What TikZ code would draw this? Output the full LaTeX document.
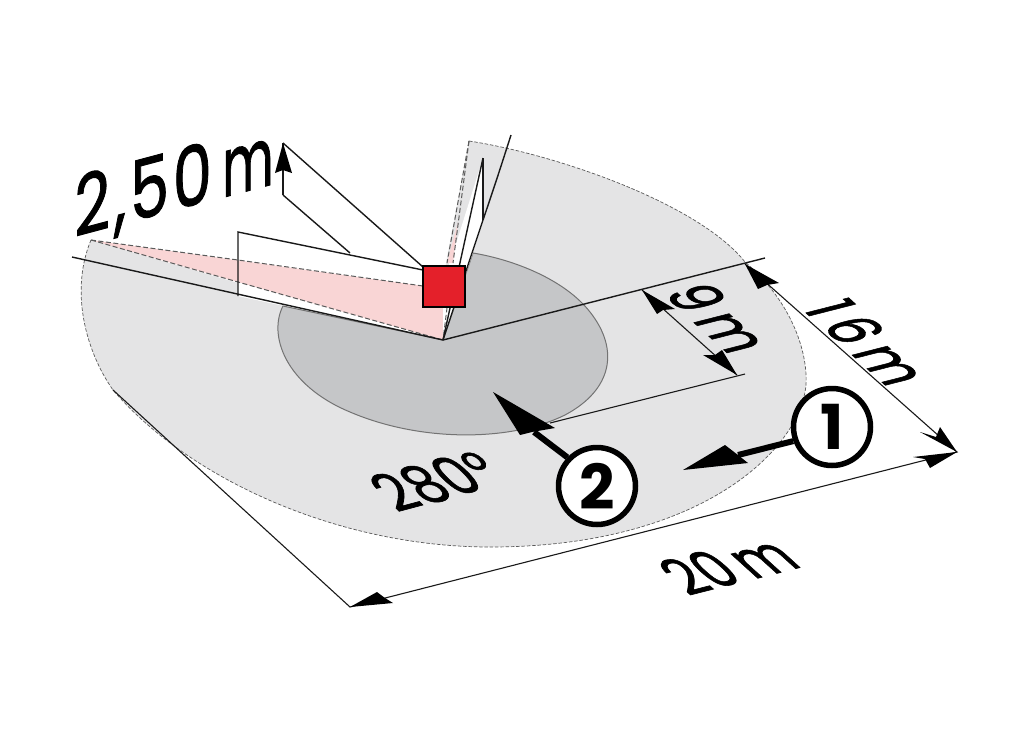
\documentclass[tikz,border=0pt]{standalone}
\usepackage{fontspec}
\setmainfont{Poppins}
\usetikzlibrary{arrows.meta}
\definecolor{outerg}{HTML}{E4E4E5}
\definecolor{innerg}{HTML}{C5C6C8}
\definecolor{pinkw}{HTML}{F9D5D5}
\definecolor{redb}{HTML}{E4202A}
\definecolor{dashg}{HTML}{5A5A5A}
\tikzset{
 wall/.style={draw=black!90,line width=1.4pt,line join=miter},
 dim/.style={draw=black!90,line width=1.1pt},
 dsh/.style={draw=dashg,line width=1pt,dash pattern=on 5pt off 2.5pt},
 head/.style={fill=black,draw=none},
 ring/.style={circle,draw=black,line width=5.5pt,fill=white,minimum size=77pt,inner sep=0pt,font=\fontsize{62}{62}\selectfont\bfseries},
 lbl/.style={inner sep=0pt,transform shape,text=black},
 big/.style={font=\fontsize{66}{66}\selectfont\addfontfeature{FakeBold=1.2}},
}
\begin{document}
\begin{tikzpicture}[x=1pt,y=-1pt]
\useasboundingbox (0,0) rectangle (1026,745);
\coordinate (A) at (443,340);
\coordinate (P) at (91,240);
\coordinate (Q) at (469,141);
% outer zone
\path[fill=outerg] (Q) .. controls (560,155) and (700,205) .. (745,262)
 .. controls (790,300) and (808,350) .. (806,385)
 .. controls (800,450) and (700,547) .. (490,547)
 .. controls (340,547) and (190,480) .. (113,390)
 .. controls (85,350) and (70,290) .. (P) -- (238,283) -- (238,296) -- (A) -- (446,263) -- cycle;
\draw[dsh,line width=0.7pt,dash pattern=on 3.5pt off 1.8pt] (Q) .. controls (560,155) and (700,205) .. (745,262)
 .. controls (790,300) and (808,350) .. (806,385)
 .. controls (800,450) and (700,547) .. (490,547)
 .. controls (340,547) and (190,480) .. (113,390)
 .. controls (85,350) and (70,290) .. (P);
% white walls
\path[fill=white] (A) -- (238,296) -- (238,232) -- (423,270) -- (423,300) -- cycle;
\path[fill=white] (A) -- (483,220) -- (483,158) -- (450,263) -- cycle;
% inner zone
\path[fill=innerg,draw=black!55,line width=1pt] (283,306) .. controls (268,335) and (285,385) .. (350,412)
 .. controls (420,442) and (510,442) .. (565,415)
 .. controls (612,390) and (620,350) .. (590,312)
 .. controls (565,280) and (515,260) .. (473,253) -- (A) -- cycle;
\path[fill=white] (A) -- (473,253) -- (450,253) -- cycle;
% pink wedges
\path[fill=pinkw] (P) -- (423,286) -- (443,286) -- (A) -- (238,282) -- cycle;
\path[fill=pinkw] (447,263) -- (458,222) -- (453,263) -- cycle;
\path[fill=white] (443,307) -- (452,307) -- (A) -- cycle;
\draw[dsh] (P) -- (238,260) -- (423,286);
\draw[dsh] (P) -- (238,282) -- (A);
\draw[dsh] (Q) -- (447,263);
\draw[dsh] (Q) -- (453,263);
\draw[dsh] (448,300) -- (A);
% wall lines
\coordinate (LW) at (72,257);
\coordinate (RW) at (511,135);
\coordinate (W1) at (238,232);
\coordinate (W2) at (238,296);
\coordinate (W3) at (423,270);
\coordinate (T1) at (283,143);
\coordinate (T2) at (283,195);
\coordinate (T3) at (350,253);
\coordinate (R1) at (483,158);
\coordinate (R2) at (483,220);
\draw[wall] (LW) -- (A) -- (765,258);
\draw[wall] (W2) -- (W1) -- (W3);
\draw[wall] (T1) -- (423,267);
\draw[wall] (T2) -- (T3);
\draw[wall] (R1) -- (R2);
\draw[wall] (R1) -- (A);
\draw[wall] (A) -- (R2) .. controls (495,185) and (503,160) .. (RW);
\draw[dim] (T2) -- (T1);
\path[head] (T1) -- (292,173) -- (283,170) -- (275,173) -- cycle;
% square
\node[draw=black,line width=1.1pt,fill=redb,minimum width=42pt,minimum height=41pt,inner sep=0pt] (S) at (444,286.5) {};
% dimension lines
\coordinate (D1) at (350,607);
\coordinate (D2) at (957,452);
\coordinate (D3) at (745,264);
\coordinate (D4) at (113,390);
\coordinate (N1) at (642,290);
\coordinate (N2) at (737,375);
\coordinate (N3) at (550,423);
\coordinate (N4) at (745,374);
\draw[dim] (D4) -- (D1) -- (D2) -- (D3);
\draw[dim] (N1) -- (N2);
\draw[dim] (N3) -- (N4);
% arrowheads
\path[head] (D1) -- (377,592) -- (385,598) -- (393,603) -- cycle;
\path[head] (D2) -- (913,457) -- (925,459) -- (930,468) -- cycle;
\path[head] (D2) -- (920,432) -- (936,437) -- (940,427) -- cycle;
\path[head] (D3) -- (758,289) -- (767,285) -- (779,283) -- cycle;
\path[head] (N1) -- (657,314) -- (663,310) -- (675,309) -- cycle;
\path[head] (N2) -- (703,355) -- (715,355) -- (722,350) -- cycle;
% circles
\coordinate (E1) at (683,470);
\coordinate (E2) at (493,392);
\coordinate (F1) at (738,455);
\coordinate (F2) at (534,432);
\node[ring] (C1) at (832,427) {1};
\node[ring] (C2) at (597,486) {2};
\draw[line width=6pt] (C1.200) -- (F1);
\path[head] (E1) -- (725,445) -- (738,455) -- (748,463) -- cycle;
\draw[line width=6pt] (C2.136) -- (F2);
\path[head] (E2) -- (555,428) -- (532,432) -- (520,435) -- cycle;
% labels
\node[lbl,font=\fontsize{83}{83}\selectfont\addfontfeature{LetterSpace=6,FakeBold=1.2},cm={0.75,0.2,0,1,(0,0)}] (t250) at (174,186) {2,50\,\scalebox{.8}[1]{m}};
\node[lbl,big,cm={0.57,-0.52,0.97,0.247,(0,0)}] (t16) at (868,342) {1\,6\,m};
\node[lbl,big,cm={0.57,-0.52,0.97,0.247,(0,0)}] (t9) at (719,318) {9\,m};
\node[lbl,big,cm={0.727,0.185,-0.74,0.67,(0,0)}] (t20) at (728,565) {20\,m};
\node[lbl,big,cm={0.75,0.2,-0.70,0.70,(0,0)}] (t280) at (436,481) {280°};
\end{tikzpicture}
\end{document}
